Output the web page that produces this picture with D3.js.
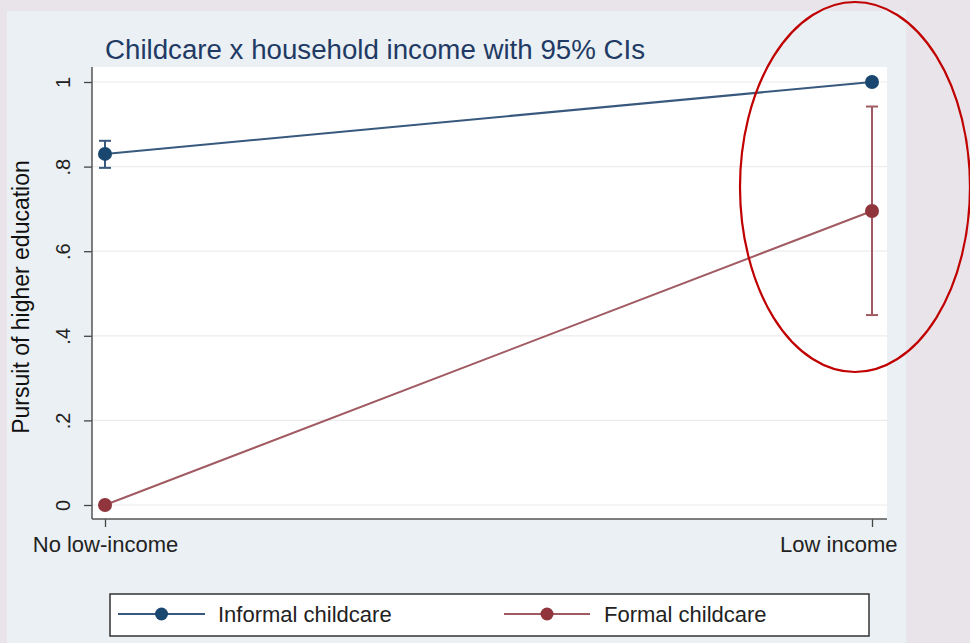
<!DOCTYPE html>
<html><head><meta charset="utf-8">
<script src="https://cdn.jsdelivr.net/npm/d3@7"></script>
<style>html,body{margin:0;padding:0;background:#e8e4ea;}svg{display:block;font-family:"Liberation Sans",Arial,sans-serif;}</style>
</head><body>
<script>
const categories = ["No low-income", "Low income"];
const seriesNames = ["Informal childcare", "Formal childcare"];
const informalVals = [0.830, 1.000];
const informalLo = [0.797, 1.000];
const informalHi = [0.861, 1.000];
const formalVals = [0.000, 0.695];
const formalLo = [0.000, 0.449];
const formalHi = [0.000, 0.942];
const yTicks = [0, 0.2, 0.4, 0.6, 0.8, 1];
const yTickLabels = ["0", ".2", ".4", ".6", ".8", "1"];

const W = 970, H = 643;
const colors = ["#1a476f", "#90353b"];
const lineColors = ["#38597d", "#a05a62"];

const svg = d3.select("body").append("svg").attr("width", W).attr("height", H);
svg.append("rect").attr("width", W).attr("height", H).attr("fill", "#e8e4ea");
svg.append("rect").attr("x", 7).attr("y", 11).attr("width", 899).attr("height", 632).attr("fill", "#eaf0f3");
const plot = {left: 92, right: 887, top: 67, bottom: 519};
svg.append("rect").attr("x", plot.left).attr("y", plot.top).attr("width", plot.right - plot.left).attr("height", plot.bottom - plot.top).attr("fill", "#ffffff");

const x = d3.scalePoint().domain(categories).range([105, 872]);
const y = d3.scaleLinear().domain([0, 1]).range([505, 82]);

svg.append("g").selectAll("line").data(yTicks).join("line")
  .attr("x1", plot.left).attr("x2", plot.right)
  .attr("y1", d => y(d)).attr("y2", d => y(d))
  .attr("stroke", "#ececec").attr("stroke-width", 1.2);

const yAxis = d3.axisLeft(y).tickValues(yTicks).tickFormat((d, i) => yTickLabels[i]).tickSize(8).tickSizeOuter(0);
const gy = svg.append("g").attr("transform", `translate(${plot.left},0)`).call(yAxis);
gy.select(".domain").remove();
gy.selectAll(".tick line").attr("stroke", "#444").attr("stroke-width", 1.3);
gy.selectAll(".tick text").attr("font-size", 20).attr("fill", "#222")
  .attr("text-anchor", "middle").attr("x", 0)
  .attr("transform", "translate(-29,0) rotate(-90)").attr("dy", "0.35em");
svg.append("line").attr("x1", plot.left).attr("x2", plot.left).attr("y1", plot.top).attr("y2", plot.bottom)
  .attr("stroke", "#555").attr("stroke-width", 1.5);

const xAxis = d3.axisBottom(x).tickSize(8).tickSizeOuter(0);
const gx = svg.append("g").attr("transform", `translate(0,${plot.bottom})`).call(xAxis);
gx.select(".domain").remove();
gx.selectAll(".tick line").attr("stroke", "#444").attr("stroke-width", 1.3);
gx.selectAll(".tick text").attr("font-size", 22).attr("fill", "#222").attr("y", 17).attr("dy", "0.71em");
// keep last label inside the panel like the original
gx.selectAll(".tick text").each(function(d) {
  const bb = this.getBBox();
  const cx = x(d);
  const overflow = cx + bb.width / 2 - 897;
  if (overflow > 0) d3.select(this).attr("x", -overflow);
});
svg.append("line").attr("x1", plot.left).attr("x2", plot.right).attr("y1", plot.bottom).attr("y2", plot.bottom)
  .attr("stroke", "#555").attr("stroke-width", 1.5);

const series = [
  {name: seriesNames[0], vals: informalVals, lo: informalLo, hi: informalHi},
  {name: seriesNames[1], vals: formalVals, lo: formalLo, hi: formalHi}
];
const line = d3.line().x((d, i) => x(categories[i])).y(d => y(d));
series.forEach((s, si) => {
  const g = svg.append("g");
  g.append("path").attr("d", line(s.vals)).attr("fill", "none").attr("stroke", lineColors[si]).attr("stroke-width", 2);
  categories.forEach((c, i) => {
    if (s.hi[i] - s.lo[i] > 0.001) {
      const cx = x(c);
      g.append("line").attr("x1", cx).attr("x2", cx).attr("y1", y(s.lo[i])).attr("y2", y(s.hi[i])).attr("stroke", lineColors[si]).attr("stroke-width", 2);
      [s.lo[i], s.hi[i]].forEach(v => g.append("line").attr("x1", cx - 6).attr("x2", cx + 6).attr("y1", y(v)).attr("y2", y(v)).attr("stroke", lineColors[si]).attr("stroke-width", 2));
    }
  });
  g.selectAll("circle").data(s.vals).join("circle")
    .attr("cx", (d, i) => x(categories[i])).attr("cy", d => y(d)).attr("r", 7).attr("fill", colors[si]);
});

svg.append("text").attr("x", 105).attr("y", 59).attr("font-size", 27).attr("fill", "#1f3a64")
  .attr("textLength", 540).attr("lengthAdjust", "spacingAndGlyphs")
  .text("Childcare x household income with 95% CIs");

svg.append("text").attr("transform", "translate(29,297) rotate(-90)").attr("text-anchor", "middle")
  .attr("font-size", 23).attr("fill", "#111").text("Pursuit of higher education");

svg.append("rect").attr("x", 110).attr("y", 594).attr("width", 759).attr("height", 42).attr("fill", "#ffffff").attr("stroke", "#333").attr("stroke-width", 1.5);
const legendPos = [{x0: 118, x1: 205, tx: 218}, {x0: 504, x1: 590, tx: 604}];
series.forEach((s, si) => {
  const p = legendPos[si];
  const ly = 614;
  svg.append("line").attr("x1", p.x0).attr("x2", p.x1).attr("y1", ly).attr("y2", ly).attr("stroke", lineColors[si]).attr("stroke-width", 2);
  svg.append("circle").attr("cx", (p.x0 + p.x1) / 2).attr("cy", ly).attr("r", 6.5).attr("fill", colors[si]);
  svg.append("text").attr("x", p.tx).attr("y", ly).attr("dy", "0.35em").attr("font-size", 22).attr("fill", "#222").text(s.name);
});

svg.append("ellipse").attr("cx", 855).attr("cy", 187).attr("rx", 115).attr("ry", 185)
  .attr("fill", "none").attr("stroke", "#c00000").attr("stroke-width", 2.2);
</script>
</body></html>
